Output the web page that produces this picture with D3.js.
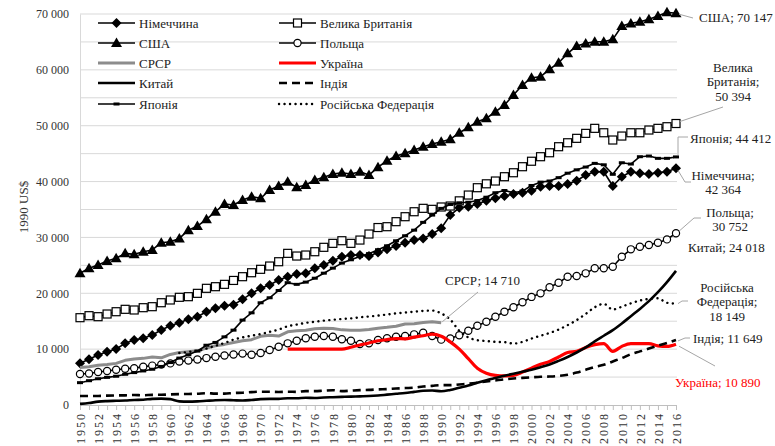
<!DOCTYPE html>
<html>
<head>
<meta charset="utf-8">
<script src="https://cdn.jsdelivr.net/npm/d3@7"></script>
<style>
  body { margin: 0; background: #fff; }
  svg { display: block; }
  svg text { font-family: "Liberation Serif", "DejaVu Serif", serif; }
</style>
</head>
<body>
<svg id="chart" width="775" height="446"></svg>
<script>
// GDP per capita, 1990 US$
const years = d3.range(1950, 2017);

const germany = [7460, 8180, 8950, 9540, 10020, 11040, 11640, 11940, 12530, 13430,
  14200, 14730, 15340, 15810, 16700, 17310, 17780, 17950, 18920, 19990,
  20890, 21480, 22380, 22970, 23450, 23570, 24470, 25060, 25830, 26550,
  26850, 26850, 26670, 27300, 27870, 28460, 29050, 29530, 29800, 30610,
  31630, 34000, 35300, 35500, 35980, 36570, 37000, 37410, 37770, 38000,
  38350, 39080, 39200, 39200, 39560, 40150, 41170, 41760, 41760, 39200,
  40870, 41760, 41470, 41350, 41580, 41760, 42364];
const uk = [15630, 15990, 15810, 16290, 16700, 17130, 17010, 17420, 17600, 18310,
  18800, 19280, 19390, 19990, 20890, 21180, 21600, 22300, 22970, 23680,
  24290, 24880, 25650, 27150, 26670, 26850, 27440, 28230, 28940, 29410,
  28940, 29530, 30610, 31770, 31920, 32820, 33710, 34600, 35210, 35030,
  35450, 35620, 36550, 37590, 38900, 39600, 40100, 40870, 41580, 42660,
  43640, 44450, 45160, 46240, 46950, 47740, 48630, 49530, 48740, 47440,
  48150, 48740, 48740, 49230, 49530, 49820, 50394];
const usa = [23600, 24470, 25060, 25780, 26260, 27150, 26970, 27440, 27750, 29050,
  29230, 29830, 31300, 32040, 33240, 34600, 35980, 35800, 36700, 37290,
  37000, 38490, 39200, 39970, 38970, 39380, 40280, 40760, 41350, 41580,
  41350, 41760, 41170, 42570, 43730, 44570, 45050, 45640, 46240, 46720,
  47130, 47560, 48740, 49710, 50710, 51320, 52500, 53700, 55490, 57280,
  58600, 58770, 60090, 61280, 62960, 64260, 64740, 65030, 65030, 65460,
  67840, 68320, 68610, 69040, 69630, 70300, 70147];
const poland = [5550, 5650, 5900, 6100, 6300, 6500, 6600, 6850, 7050, 7250,
  7450, 7800, 7950, 8150, 8400, 8650, 8850, 9050, 9200, 9000,
  9300, 9850, 10440, 11040, 11510, 11940, 12230, 12350, 12230, 11760,
  11510, 10920, 11040, 11640, 11940, 12230, 12350, 12650, 12940, 12350,
  11700, 11900, 12500, 13300, 14200, 14900, 15800, 16700, 17500, 18400,
  19350, 19990, 21070, 21890, 22970, 23090, 23570, 24470, 24470, 24760,
  26550, 27870, 28340, 28640, 29050, 29650, 30752];
// 1950-1990
const ussr = [6700, 6850, 7100, 7250, 7450, 8000, 8250, 8350, 8600, 8450,
  9050, 9400, 9550, 9700, 10200, 10600, 10850, 11200, 11500, 11700,
  12300, 12500, 12350, 13100, 13300, 13400, 13650, 13750, 13700, 13450,
  13400, 13400, 13500, 13750, 13900, 14100, 14500, 14550, 14750, 14900,
  14710];
// 1973-2016
const ukraine = [10000, 10000, 10000, 10000, 10000, 10000, 10000,
  10350, 10750, 11100, 11500, 11700, 11900, 11850, 12150, 12400, 12700,
  12300, 11300, 10000, 8300, 6600, 5700, 5300, 5200, 5300, 5900,
  6600, 7300, 7800, 8600, 9400, 9600, 10300, 10800, 11000, 9600,
  10500, 11000, 11000, 11000, 10600, 10500, 10890];
const china = [200, 350, 600, 700, 750, 800, 900, 950, 1100, 1150,
  1050, 650, 600, 650, 750, 850, 900, 850, 800, 900,
  1050, 1100, 1100, 1200, 1200, 1300, 1250, 1350, 1400, 1450,
  1500, 1550, 1600, 1700, 1850, 2000, 2150, 2350, 2550, 2600,
  2450, 2700, 3100, 3500, 4000, 4450, 4850, 5250, 5600, 5950,
  6300, 6750, 7250, 7900, 8600, 9400, 10300, 11400, 12400, 13400,
  14600, 15900, 17200, 18600, 20200, 22000, 24018];
const india = [1600, 1600, 1620, 1680, 1720, 1730, 1790, 1740, 1820, 1830,
  1900, 1950, 1970, 2020, 2120, 2040, 2030, 2150, 2200, 2300,
  2380, 2380, 2340, 2370, 2350, 2490, 2480, 2570, 2650, 2480,
  2570, 2660, 2700, 2800, 2850, 2950, 3030, 3100, 3300, 3430,
  3550, 3550, 3680, 3800, 3980, 4200, 4400, 4600, 4750, 4850,
  4950, 5050, 5100, 5200, 5400, 5800, 6300, 6800, 7200, 7800,
  8400, 9100, 9600, 10100, 10600, 11100, 11649];
const japan = [4000, 4350, 4700, 4950, 5150, 5500, 5800, 6100, 6400, 6900,
  7600, 8400, 9000, 9650, 10700, 11200, 12200, 13400, 15200, 16500,
  18300, 19200, 20500, 21900, 21600, 22000, 22700, 23600, 24500, 25400,
  26000, 26600, 27100, 27800, 28500, 29400, 30300, 31300, 32700, 34000,
  35200, 35900, 36200, 36300, 36600, 37200, 38000, 38400, 38000, 38300,
  39300, 39900, 40100, 40700, 41500, 42100, 42600, 43260, 43000, 41300,
  43370, 43140, 44450, 44570, 44160, 44160, 44412];
// 1961-2016
const russia = [9300, 9500, 9700, 10100, 10600, 11100, 11700, 12100, 12400,
  12700, 13100, 13500, 14100, 14400, 14700, 14900, 15100, 15250, 15400,
  15500, 15700, 15850, 16000, 16200, 16400, 16550, 16700, 16850, 16900,
  16400, 15300, 13300, 12100, 11600, 11450, 11300, 11250, 11000, 11300,
  11900, 12400, 12900, 13500, 14300, 15200, 16300, 17500, 18100, 17100,
  17600, 18200, 18700, 19000, 19100, 18300, 18149];

const yTicks = [0, 10000, 20000, 30000, 40000, 50000, 60000, 70000];

const series = [
  {name: "Німеччина", values: germany, start: 1950, color: "#000", width: 1.6, marker: "diamond", col: 0, row: 0},
  {name: "Велика Британія", values: uk, start: 1950, color: "#000", width: 1.6, marker: "square", col: 1, row: 0},
  {name: "США", values: usa, start: 1950, color: "#000", width: 1.6, marker: "triangle", col: 0, row: 1},
  {name: "Польща", values: poland, start: 1950, color: "#000", width: 1.6, marker: "circle", col: 1, row: 1},
  {name: "СРСР", values: ussr, start: 1950, color: "#8c8c8c", width: 3, col: 0, row: 2},
  {name: "Україна", values: ukraine, start: 1973, color: "#ff0000", width: 3.2, smooth: true, col: 1, row: 2},
  {name: "Китай", values: china, start: 1950, color: "#000", width: 2.6, smooth: true, col: 0, row: 3},
  {name: "Індія", values: india, start: 1950, color: "#000", width: 2.6, dash: "8,5", smooth: true, col: 1, row: 3},
  {name: "Японія", values: japan, start: 1950, color: "#000", width: 1.6, marker: "dash", col: 0, row: 4},
  {name: "Російська Федерація", values: russia, start: 1961, color: "#000", width: 2.4, dash: "0.1,5.4", cap: "round", smooth: true, col: 1, row: 4}
];

const svg = d3.select("#chart");
const x = d3.scaleLinear().domain([1950, 2016]).range([80, 676]);
const y = d3.scaleLinear().domain([0, 70000]).range([405, 14]);

// gridlines every 5 000
svg.append("g")
  .selectAll("line")
  .data(y.ticks(14).filter(d => d > 0))
  .join("line")
  .attr("x1", 80).attr("x2", 677)
  .attr("y1", d => y(d)).attr("y2", d => y(d))
  .attr("stroke", "#d9d9d9").attr("stroke-width", 1);

// y axis
const yAxis = svg.append("g")
  .attr("transform", "translate(80,0)")
  .call(d3.axisLeft(y).tickValues(yTicks).tickSize(0).tickPadding(11)
    .tickFormat(d => d3.format(",")(d).replace(/,/g, " ")));
yAxis.attr("font-family", null);
yAxis.select(".domain").attr("stroke", "#d9d9d9");
yAxis.selectAll("text").attr("font-size", 12).attr("fill", "#333");

// x axis
const xAxis = svg.append("g")
  .attr("transform", "translate(0,405)")
  .call(d3.axisBottom(x).tickValues(years).tickSize(5)
    .tickFormat(d => d % 2 === 0 ? String(d) : ""));
xAxis.attr("font-family", null);
xAxis.select(".domain").attr("stroke", "#bfbfbf");
xAxis.selectAll(".tick line").attr("stroke", "#bfbfbf");
xAxis.selectAll("text")
  .attr("font-size", 12)
  .attr("fill", "#333")
  .attr("letter-spacing", 2)
  .attr("transform", "rotate(-90)")
  .attr("x", -7).attr("y", 0).attr("dy", "0.35em")
  .style("text-anchor", "end");

svg.append("text")
  .attr("transform", "translate(28,207) rotate(-90)")
  .attr("text-anchor", "middle")
  .attr("font-size", 13).attr("fill", "#333")
  .text("1990 US$");

function drawMarker(g, type, cx, cy) {
  if (type === "diamond") {
    g.append("path").attr("d", `M${cx},${cy - 5}L${cx + 5},${cy}L${cx},${cy + 5}L${cx - 5},${cy}Z`).attr("fill", "#000");
  } else if (type === "square") {
    g.append("rect").attr("x", cx - 4).attr("y", cy - 4).attr("width", 8).attr("height", 8)
      .attr("fill", "#fff").attr("stroke", "#000").attr("stroke-width", 1.2);
  } else if (type === "triangle") {
    g.append("path").attr("d", `M${cx},${cy - 5.5}L${cx + 5.5},${cy + 4}L${cx - 5.5},${cy + 4}Z`).attr("fill", "#000");
  } else if (type === "circle") {
    g.append("circle").attr("cx", cx).attr("cy", cy).attr("r", 3.6)
      .attr("fill", "#fff").attr("stroke", "#000").attr("stroke-width", 1.2);
  } else if (type === "dash") {
    g.append("rect").attr("x", cx - 3).attr("y", cy - 1.5).attr("width", 6).attr("height", 3).attr("fill", "#000");
  }
}

const plot = svg.append("g");
series.forEach(s => {
  const pts = s.values.map((v, i) => ({year: s.start + i, value: v}));
  const line = d3.line()
    .x(d => x(d.year)).y(d => y(d.value))
    .curve(s.smooth ? d3.curveMonotoneX : d3.curveLinear);
  plot.append("path")
    .datum(pts)
    .attr("fill", "none")
    .attr("stroke", s.color)
    .attr("stroke-width", s.width)
    .attr("stroke-dasharray", s.dash || null)
    .attr("stroke-linecap", s.cap || "butt")
    .attr("stroke-linejoin", "round")
    .attr("d", line);
  if (s.marker) {
    const mg = plot.append("g");
    pts.forEach(d => drawMarker(mg, s.marker, x(d.year), y(d.value)));
  }
});

// legend
const legend = svg.append("g");
const colX = [98, 279];
const rowY = [23, 43, 63, 83, 104];
series.forEach(s => {
  const lx = colX[s.col], ly = rowY[s.row];
  const g = legend.append("g");
  g.append("line")
    .attr("x1", lx).attr("x2", lx + 37).attr("y1", ly).attr("y2", ly)
    .attr("stroke", s.color).attr("stroke-width", s.width)
    .attr("stroke-dasharray", s.dash || null)
    .attr("stroke-linecap", s.cap || "butt");
  if (s.marker) drawMarker(g, s.marker, lx + 18.5, ly);
  g.append("text")
    .attr("x", lx + 41).attr("y", ly + 4.5)
    .attr("font-size", 13).attr("fill", "#222")
    .text(s.name);
});

// data labels
const fmt = v => d3.format(",")(v).replace(/,/g, " ");
const last = arr => arr[arr.length - 1];
const x16 = x(2016);
const labels = [
  {lines: ["США; " + fmt(last(usa))], tx: 699, ty: 21.5, anchor: "start",
    leader: [[x16 + 3, y(last(usa)) + 1], [693, 18]]},
  {lines: ["Велика", "Британія;", fmt(last(uk))], tx: 733, ty: 71.5, anchor: "middle",
    leader: [[x16 + 4, y(last(uk)) - 2], [723, 107]]},
  {lines: ["Японія; " + fmt(last(japan))], tx: 690, ty: 142.5, anchor: "start",
    leader: [[x16 + 2, y(last(japan)) - 2], [x16 + 2, 137], [688, 137]]},
  {lines: ["Німеччина;", fmt(last(germany))], tx: 723, ty: 179.5, anchor: "middle",
    leader: [[x16 + 2, y(last(germany)) + 2], [685, 182], [691, 182]]},
  {lines: ["Польща;", fmt(last(poland))], tx: 730, ty: 216.5, anchor: "middle",
    leader: [[x16 + 3, y(last(poland)) - 2], [694, 218], [701, 218]]},
  {lines: ["Китай; " + fmt(last(china))], tx: 688, ty: 251.5, anchor: "start"},
  {lines: ["Російська", "Федерація;", fmt(last(russia))], tx: 727, ty: 291.5, anchor: "middle",
    leader: [[x16 + 2, y(last(russia))], [682, 301], [688, 301]]},
  {lines: ["Індія; " + fmt(last(india))], tx: 693, ty: 342.5, anchor: "start",
    leader: [[x16 + 2, y(last(india)) + 1], [685, 338], [690, 338]]},
  {lines: ["Україна; " + fmt(last(ukraine))], tx: 675, ty: 386.5, anchor: "start", color: "#ff0000",
    leader: [[x16 + 3, y(last(ukraine)) + 2], [715, 366]]},
  {lines: ["СРСР; " + fmt(last(ussr))], tx: 445, ty: 284.5, anchor: "start",
    leader: [[x(1990) + 1, y(last(ussr)) - 1], [478, 292]]}
];

const lg = svg.append("g");
labels.forEach(l => {
  if (l.leader) {
    lg.append("path")
      .attr("d", d3.line()(l.leader))
      .attr("fill", "none").attr("stroke", "#a6a6a6").attr("stroke-width", 1);
  }
  const t = lg.append("text")
    .attr("font-size", 13)
    .attr("fill", l.color || "#222")
    .attr("text-anchor", l.anchor);
  l.lines.forEach((line, i) => {
    t.append("tspan").attr("x", l.tx).attr("y", l.ty + i * 14.5).text(line);
  });
});
</script>
</body>
</html>
